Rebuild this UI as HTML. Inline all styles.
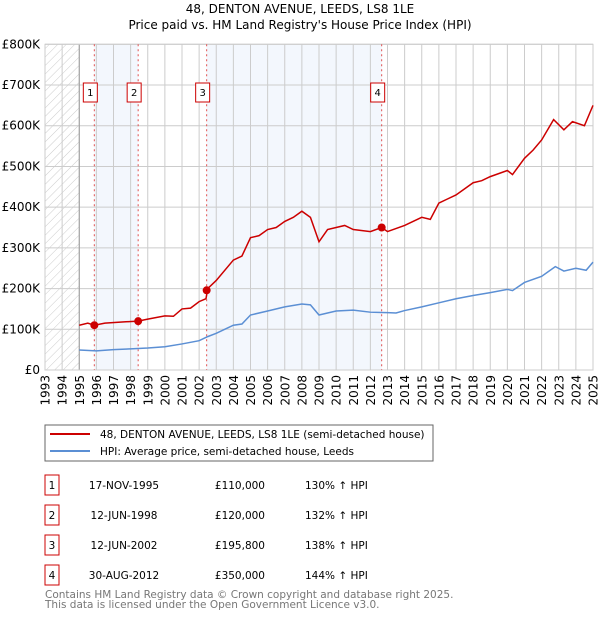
<!DOCTYPE html>
<html><head><meta charset="utf-8"><style>
body{margin:0;background:#fff;font-family:"DejaVu Sans","Liberation Sans",sans-serif;}
svg text{font-family:"DejaVu Sans","Liberation Sans",sans-serif;}
</style></head><body>
<svg id="chart" width="600" height="620" viewBox="0 0 600 620" xmlns="http://www.w3.org/2000/svg">
<defs><pattern id="hatch" width="6" height="6" patternUnits="userSpaceOnUse" patternTransform="rotate(45)"><line x1="0" y1="0" x2="0" y2="6" stroke="#ccc" stroke-width="1"/></pattern></defs>
<text x="300" y="13" text-anchor="middle" font-size="12">48, DENTON AVENUE, LEEDS, LS8 1LE</text>
<text x="300" y="29" text-anchor="middle" font-size="12">Price paid vs. HM Land Registry's House Price Index (HPI)</text>
<g id="plot"></g>
<g>
<rect x="45" y="425" width="388" height="36" fill="#fff" stroke="#666"/>
<line x1="50" y1="434" x2="90" y2="434" stroke="#cc0000" stroke-width="2"/>
<text x="100" y="438" font-size="10.5">48, DENTON AVENUE, LEEDS, LS8 1LE (semi-detached house)</text>
<line x1="50" y1="451" x2="90" y2="451" stroke="#5b8fd4" stroke-width="2"/>
<text x="100" y="455" font-size="10.5">HPI: Average price, semi-detached house, Leeds</text>
</g>
<g id="table" font-size="10.5"></g>
<text x="45" y="598" font-size="10.5" fill="#777">Contains HM Land Registry data © Crown copyright and database right 2025.</text>
<text x="45" y="608" font-size="10.5" fill="#777">This data is licensed under the Open Government Licence v3.0.</text>
</svg>
<script>
const hpiYears=[1995,1996,1997,1998,1999,2000,2001,2002,2002.5,2003,2004,2004.5,2005,2006,2007,2008,2008.5,2009,2009.5,2010,2011,2012,2013,2013.5,2014,2015,2016,2017,2018,2019,2020,2020.3,2021,2022,2022.8,2023.3,2024,2024.6,2025];
const hpiValues=[49,47,50,52,54,57,64,72,82,90,110,113,135,145,155,162,160,135,140,145,147,142,141,140,146,155,165,175,183,190,198,195,215,230,254,243,250,245,265];
const priceYears=[1995,1995.5,1995.88,1996.5,1997.5,1998.44,1999,2000,2000.5,2001,2001.5,2002,2002.4,2002.5,2003,2004,2004.5,2005,2005.5,2006,2006.5,2007,2007.5,2008,2008.5,2009,2009.5,2010,2010.5,2011,2012,2012.66,2013,2014,2015,2015.5,2016,2016.5,2017,2017.5,2018,2018.5,2019,2020,2020.3,2021,2021.5,2022,2022.7,2023.3,2023.8,2024.5,2025];
const priceValues=[110,115,110,115,118,120,125,133,132,150,152,168,175,200,220,270,280,325,330,345,350,365,375,390,375,315,345,350,355,345,340,350,340,355,375,370,410,420,430,445,460,465,475,490,480,520,540,565,615,590,610,600,650];
const saleYears=[1995.88,1998.44,2002.44,2012.66];
const saleValues=[110,120,195.8,350];
const saleLabels=["1","2","3","4"];
const saleDates=["17-NOV-1995","12-JUN-1998","12-JUN-2002","30-AUG-2012"];
const salePrices=["£110,000","£120,000","£195,800","£350,000"];
const saleHpi=["130% ↑ HPI","132% ↑ HPI","138% ↑ HPI","144% ↑ HPI"];
const yTicks=[0,100,200,300,400,500,600,700,800];
const yTickLabels=["£0","£100K","£200K","£300K","£400K","£500K","£600K","£700K","£800K"];
const xTicks=[1993,1994,1995,1996,1997,1998,1999,2000,2001,2002,2003,2004,2005,2006,2007,2008,2009,2010,2011,2012,2013,2014,2015,2016,2017,2018,2019,2020,2021,2022,2023,2024,2025];

const X0=45,X1=593,Y0=370,Y1=44.3;
const xs=y=>X0+(y-1993)/(2025-1993)*(X1-X0);
const ys=v=>Y0-v/800*(Y0-Y1);
const NS="http://www.w3.org/2000/svg";
const plot=document.getElementById('plot');
function mk(tag,attrs,parent){const e=document.createElementNS(NS,tag);for(const k in attrs)e.setAttribute(k,attrs[k]);(parent||plot).appendChild(e);return e;}

for(let i=0;i<saleYears.length;i+=2){
  const x1=xs(saleYears[i]);const x2=i+1<saleYears.length?xs(saleYears[i+1]):X1;
  const r=mk('rect',{x:x1,y:Y1,width:x2-x1,height:Y0-Y1,fill:'#eef3fc',opacity:0.7});
  
  
}
const h=mk('rect',{x:X0,y:Y1,width:xs(1995)-X0,height:Y0-Y1,fill:'url(#hatch)'});


yTicks.forEach((t,i)=>{
  const l=mk('line',{x1:X0,x2:X1,y1:ys(t),y2:ys(t),stroke:'#ccc','stroke-width':1});
  
  
  const tx=mk('text',{x:40,y:ys(t)+4,'text-anchor':'end','font-size':12});
  
  
  tx.textContent=yTickLabels[i];
});
xTicks.forEach(t=>{
  const l=mk('line',{x1:xs(t),x2:xs(t),y1:Y1,y2:Y0,stroke:'#ccc','stroke-width':1});
  
  
  const tx=mk('text',{x:0,y:0,'text-anchor':'end','font-size':12,transform:`translate(${xs(t)+4.5},375) rotate(-90)`});
  
  
  tx.textContent=t;
});
mk('line',{x1:xs(1995),x2:xs(1995),y1:Y1,y2:Y0,stroke:'#999','stroke-width':1});
const fr=mk('rect',{x:X0,y:Y1,width:X1-X0,height:Y0-Y1,fill:'none',stroke:'#ccc'});


saleYears.forEach((y,i)=>{
  const l=mk('line',{x1:xs(y),x2:xs(y),y1:Y1,y2:Y0,stroke:'#e05050','stroke-width':1,'stroke-dasharray':'2,3'});
  
  
  const b=mk('rect',{x:xs(y)-11,y:83,width:14,height:19,fill:'#fff',stroke:'#cc0000'});
  
  
  const t=mk('text',{x:xs(y)-4,y:96,'text-anchor':'middle','font-size':10});
  
  
  t.textContent=saleLabels[i];
});
const hp=mk('polyline',{points:hpiYears.map((y,i)=>xs(y)+','+ys(hpiValues[i])).join(' '),fill:'none',stroke:'#5b8fd4','stroke-width':1.5});


const pp=mk('polyline',{points:priceYears.map((y,i)=>xs(y)+','+ys(priceValues[i])).join(' '),fill:'none',stroke:'#cc0000','stroke-width':1.5});


saleYears.forEach((y,i)=>{
  const c=mk('circle',{cx:xs(y),cy:ys(saleValues[i]),r:4,fill:'#cc0000'});
  
  
});
const tb=document.getElementById('table');
saleLabels.forEach((s,i)=>{
  const y=485+i*30;
  const b=mk('rect',{x:45,y:y-10,width:14,height:20,fill:'#fff',stroke:'#cc0000'},tb);
  
  
  const cells=[[52,s,'middle'],[124,saleDates[i],'middle'],[265,salePrices[i],'end'],[305,saleHpi[i],'start']];
  cells.forEach(c=>{
    const t=mk('text',{x:c[0],y:y+4,'text-anchor':c[2],'font-size':10.5},tb);
    
    
    t.textContent=c[1];
  });
});
</script>
</body></html>
